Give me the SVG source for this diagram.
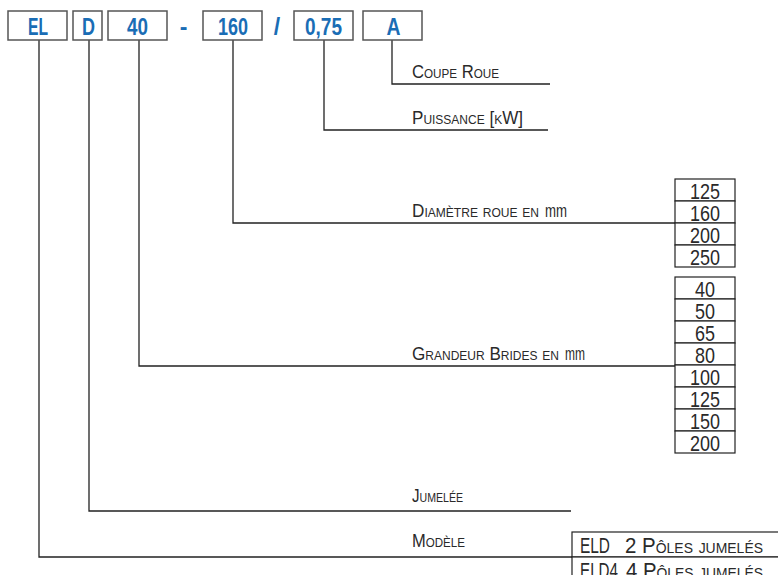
<svg xmlns="http://www.w3.org/2000/svg" width="778" height="575" viewBox="0 0 778 575">
<style>
.code{fill:#fff;stroke:#555;stroke-width:1.5}
.ct{font-family:"Liberation Sans",Arial,sans-serif;font-weight:bold;font-size:23px;fill:#1a6db5;text-anchor:middle}
.lbl{font-family:"Liberation Sans",Arial,sans-serif;font-size:18.5px;fill:#2a2a2a;font-variant:small-caps}
.nrm{font-family:"Liberation Sans",Arial,sans-serif;font-size:18.5px;fill:#2a2a2a}
.cell{fill:#fff;stroke:#222;stroke-width:1.2}
.num{font-family:"Liberation Sans",Arial,sans-serif;font-size:22px;fill:#2a2a2a;text-anchor:middle}
.tbl{font-family:"Liberation Sans",Arial,sans-serif;font-size:22px;fill:#2a2a2a;font-variant:small-caps}
.conn{fill:none;stroke:#222;stroke-width:1.3}
</style>
<g id="connectors">
<polyline class="conn" points="392,40 392,84 550,84"/>
<polyline class="conn" points="324,40 324,130 548,130"/>
<polyline class="conn" points="233,40 233,223 675,223"/>
<polyline class="conn" points="139,40 139,366 675,366"/>
<polyline class="conn" points="89,40 89,511 571,511"/>
<polyline class="conn" points="39,40 39,557 572,557"/>
</g>
<g id="code-EL"><rect class="code" x="8" y="11" width="59" height="29"/><text class="ct" x="38" y="35" textLength="20" lengthAdjust="spacingAndGlyphs">EL</text></g>
<g id="code-D"><rect class="code" x="73" y="11" width="29" height="29"/><text class="ct" x="88.5" y="35" textLength="13" lengthAdjust="spacingAndGlyphs">D</text></g>
<g id="code-40"><rect class="code" x="108" y="11" width="59" height="29"/><text class="ct" x="137.5" y="35" textLength="21" lengthAdjust="spacingAndGlyphs">40</text></g>
<g id="sep-dash"><text class="ct" x="183.5" y="35">-</text></g>
<g id="code-160"><rect class="code" x="203" y="11" width="59" height="29"/><text class="ct" x="233" y="35" textLength="30" lengthAdjust="spacingAndGlyphs">160</text></g>
<g id="sep-slash"><text class="ct" x="277" y="35">/</text></g>
<g id="code-075"><rect class="code" x="294" y="11" width="59" height="29"/><text class="ct" x="323.5" y="35" textLength="37" lengthAdjust="spacingAndGlyphs">0,75</text></g>
<g id="code-A"><rect class="code" x="363" y="11" width="59" height="29"/><text class="ct" x="393.5" y="35" textLength="14" lengthAdjust="spacingAndGlyphs">A</text></g>
<g id="label-coupe"><text class="lbl" x="412" y="78" textLength="87" lengthAdjust="spacingAndGlyphs">Coupe Roue</text></g>
<g id="label-puissance"><text class="lbl" x="412" y="124" textLength="111" lengthAdjust="spacingAndGlyphs">Puissance [kW]</text></g>
<g id="label-diametre"><text class="lbl" x="412" y="217" textLength="127" lengthAdjust="spacingAndGlyphs">Diamètre roue en</text><text class="nrm" x="545" y="217" textLength="22" lengthAdjust="spacingAndGlyphs">mm</text></g>
<g id="label-grandeur"><text class="lbl" x="412" y="360" textLength="147" lengthAdjust="spacingAndGlyphs">Grandeur Brides en</text><text class="nrm" x="565" y="360" textLength="20" lengthAdjust="spacingAndGlyphs">mm</text></g>
<g id="label-jumelee"><text class="lbl" x="412" y="502" textLength="51" lengthAdjust="spacingAndGlyphs">Jumelée</text></g>
<g id="label-modele"><text class="lbl" x="412" y="547" textLength="53" lengthAdjust="spacingAndGlyphs">Modèle</text></g>
<g id="table-diametre">
<rect class="cell" x="675" y="179" width="60" height="22"/>
<rect class="cell" x="675" y="201" width="60" height="22"/>
<rect class="cell" x="675" y="223" width="60" height="22"/>
<rect class="cell" x="675" y="245" width="60" height="22"/>
<text class="num" x="705" y="199" textLength="30" lengthAdjust="spacingAndGlyphs">125</text>
<text class="num" x="705" y="221" textLength="30" lengthAdjust="spacingAndGlyphs">160</text>
<text class="num" x="705" y="243" textLength="30" lengthAdjust="spacingAndGlyphs">200</text>
<text class="num" x="705" y="265" textLength="30" lengthAdjust="spacingAndGlyphs">250</text>
</g>
<g id="table-brides">
<rect class="cell" x="675" y="277" width="60" height="22"/>
<rect class="cell" x="675" y="299" width="60" height="22"/>
<rect class="cell" x="675" y="321" width="60" height="22"/>
<rect class="cell" x="675" y="343" width="60" height="22"/>
<rect class="cell" x="675" y="365" width="60" height="22"/>
<rect class="cell" x="675" y="387" width="60" height="22"/>
<rect class="cell" x="675" y="409" width="60" height="22"/>
<rect class="cell" x="675" y="431" width="60" height="22"/>
<text class="num" x="705" y="297" textLength="20" lengthAdjust="spacingAndGlyphs">40</text>
<text class="num" x="705" y="319" textLength="20" lengthAdjust="spacingAndGlyphs">50</text>
<text class="num" x="705" y="341" textLength="20" lengthAdjust="spacingAndGlyphs">65</text>
<text class="num" x="705" y="363" textLength="20" lengthAdjust="spacingAndGlyphs">80</text>
<text class="num" x="705" y="385" textLength="30" lengthAdjust="spacingAndGlyphs">100</text>
<text class="num" x="705" y="407" textLength="30" lengthAdjust="spacingAndGlyphs">125</text>
<text class="num" x="705" y="429" textLength="30" lengthAdjust="spacingAndGlyphs">150</text>
<text class="num" x="705" y="451" textLength="30" lengthAdjust="spacingAndGlyphs">200</text>
</g>
<g id="table-modele">
<rect class="cell" x="572" y="532" width="220" height="25"/>
<rect class="cell" x="572" y="557" width="220" height="25"/>
<text class="tbl" x="580" y="553" textLength="30" lengthAdjust="spacingAndGlyphs">ELD</text>
<text class="tbl" x="625" y="553" textLength="138" lengthAdjust="spacingAndGlyphs">2 Pôles jumelés</text>
<text class="tbl" x="580" y="578" textLength="38" lengthAdjust="spacingAndGlyphs">ELD4</text>
<text class="tbl" x="626" y="578" textLength="137" lengthAdjust="spacingAndGlyphs">4 Pôles jumelés</text>
</g>
</svg>
